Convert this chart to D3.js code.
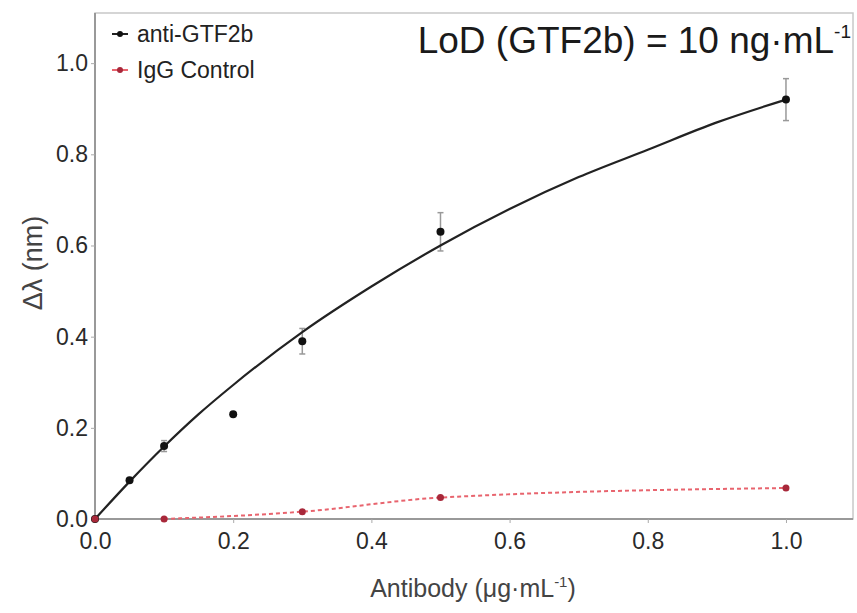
<!DOCTYPE html>
<html>
<head>
<meta charset="utf-8">
<script src="https://cdn.jsdelivr.net/npm/d3@7"></script>
<style>
  body { margin: 0; background: #fff; }
  text { font-family: "Liberation Sans", Arial, sans-serif; }
</style>
</head>
<body>
<div id="chart"></div>
<script>
// anti-GTF2b measured points
const antiX   = [0, 0.05, 0.1, 0.2, 0.3, 0.5, 1.0];
const antiY   = [0, 0.085, 0.16, 0.23, 0.39, 0.63, 0.92];
const antiErr = [0, 0.005, 0.012, 0.006, 0.028, 0.042, 0.046];
// fitted curve for anti-GTF2b
const fitX = [0, 0.05, 0.1, 0.15, 0.2, 0.3, 0.4, 0.5, 0.6, 0.7, 0.8, 0.9, 1.0];
const fitY = [0, 0.082, 0.159, 0.23, 0.294, 0.41, 0.51, 0.6, 0.68, 0.75, 0.81, 0.87, 0.92];
// IgG control points
const iggX = [0, 0.1, 0.3, 0.5, 1.0];
const iggY = [0, 0.0, 0.016, 0.047, 0.068];
// ticks
const xTicks = [0, 0.2, 0.4, 0.6, 0.8, 1.0];
const yTicks = [0, 0.2, 0.4, 0.6, 0.8, 1.0];

const width = 857, height = 613;
const margin = {left: 95, right: 4, top: 13, bottom: 94};

let svg = d3.select("#chart").append("svg")
            .attr("width", width)
            .attr("height", height);

//scales
let x = d3.scaleLinear().domain([0, 1.097]).range([margin.left, width - margin.right]);
let y = d3.scaleLinear().domain([0, 1.11]).range([height - margin.bottom, margin.top]);

//plot box
svg.append("rect")
   .attr("x", margin.left).attr("y", margin.top)
   .attr("width", width - margin.right - margin.left)
   .attr("height", height - margin.bottom - margin.top)
   .attr("fill", "none").attr("stroke", "#c8c8c8").attr("stroke-width", 1.5);

//x axis
let xAxis = svg.append("g")
   .attr("transform", `translate(0,${height - margin.bottom})`)
   .call(d3.axisBottom(x).tickValues(xTicks).tickFormat(d3.format(".1f"))
           .tickSize(4).tickPadding(10));
//y axis
let yAxis = svg.append("g")
   .attr("transform", `translate(${margin.left},0)`)
   .call(d3.axisLeft(y).tickValues(yTicks).tickFormat(d3.format(".1f"))
           .tickSize(4).tickPadding(3));

[xAxis, yAxis].forEach(function(a) {
  a.select(".domain").attr("stroke", "#999").attr("stroke-width", 2);
  a.selectAll(".tick line").attr("stroke", "#aaa");
  a.selectAll(".tick text").attr("fill", "#2a2a2a").style("font-size", "23px");
});
xAxis.select(".domain").attr("d", `M${margin.left},0H${width - margin.right}`);
yAxis.select(".domain").attr("d", `M0,${margin.top}V${height - margin.bottom}`);

//error bars
let errData = antiX.map((d, i) => [d, antiY[i], antiErr[i]]).filter(d => d[2] > 0.01);
let eb = svg.append("g");
eb.selectAll("line.v").data(errData).enter().append("line")
  .attr("x1", d => x(d[0])).attr("x2", d => x(d[0]))
  .attr("y1", d => y(d[1] - d[2])).attr("y2", d => y(d[1] + d[2]))
  .attr("stroke", "#999").attr("stroke-width", 1.5);
eb.selectAll("line.t").data(errData).enter().append("line")
  .attr("x1", d => x(d[0]) - 3).attr("x2", d => x(d[0]) + 3)
  .attr("y1", d => y(d[1] + d[2])).attr("y2", d => y(d[1] + d[2]))
  .attr("stroke", "#999").attr("stroke-width", 1.5);
eb.selectAll("line.b").data(errData).enter().append("line")
  .attr("x1", d => x(d[0]) - 3).attr("x2", d => x(d[0]) + 3)
  .attr("y1", d => y(d[1] - d[2])).attr("y2", d => y(d[1] - d[2]))
  .attr("stroke", "#999").attr("stroke-width", 1.5);

//fit line
let line = d3.line().x(d => x(d[0])).y(d => y(d[1])).curve(d3.curveMonotoneX);
svg.append("path")
   .datum(fitX.map((d, i) => [d, fitY[i]]))
   .attr("fill", "none").attr("stroke", "#222").attr("stroke-width", 2.2)
   .attr("d", line);

//IgG dashed line (from 0.1 on)
svg.append("path")
   .datum(iggX.map((d, i) => [d, iggY[i]]).slice(1))
   .attr("fill", "none").attr("stroke", "#e8646e").attr("stroke-width", 2)
   .attr("stroke-dasharray", "4,3")
   .attr("d", line);

//points
svg.append("g").selectAll("circle").data(antiX.map((d, i) => [d, antiY[i]]))
   .enter().append("circle")
   .attr("cx", d => x(d[0])).attr("cy", d => y(d[1])).attr("r", 4)
   .attr("fill", "#111");
svg.append("g").selectAll("circle").data(iggX.map((d, i) => [d, iggY[i]]))
   .enter().append("circle")
   .attr("cx", d => x(d[0])).attr("cy", d => y(d[1])).attr("r", 3.5)
   .attr("fill", "#a8283a");

//legend
let legend = [["anti-GTF2b", "#222", "#111"], ["IgG Control", "#e8646e", "#a8283a"]];
legend.forEach(function(l, i) {
  let ly = 34 + i * 36;
  svg.append("line").attr("x1", 112).attr("x2", 128).attr("y1", ly).attr("y2", ly)
     .attr("stroke", l[1]).attr("stroke-width", 2);
  svg.append("circle").attr("cx", 120).attr("cy", ly).attr("r", 3).attr("fill", l[2]);
  svg.append("text").attr("x", 137).attr("y", ly + 8)
     .style("font-size", "23px").attr("fill", "#222").text(l[0]);
});

//LoD annotation
let lod = svg.append("text").attr("x", 851).attr("y", 53)
   .attr("text-anchor", "end").style("font-size", "37px").attr("fill", "#1a1a1a");
lod.append("tspan").text("LoD (GTF2b) = 10 ng·mL");
lod.append("tspan").attr("dy", -15).style("font-size", "19px").text("-1");

//axis titles
let xt = svg.append("text").attr("x", 473).attr("y", 597)
   .attr("text-anchor", "middle").style("font-size", "25px").attr("fill", "#444");
xt.append("tspan").text("Antibody (μg·mL");
xt.append("tspan").attr("dy", -10).style("font-size", "15px").text("-1");
xt.append("tspan").attr("dy", 10).text(")");

svg.append("text")
   .attr("transform", "translate(42,263) rotate(-90)")
   .attr("text-anchor", "middle").style("font-size", "27px").attr("fill", "#444")
   .text("Δλ (nm)");
</script>
</body>
</html>
